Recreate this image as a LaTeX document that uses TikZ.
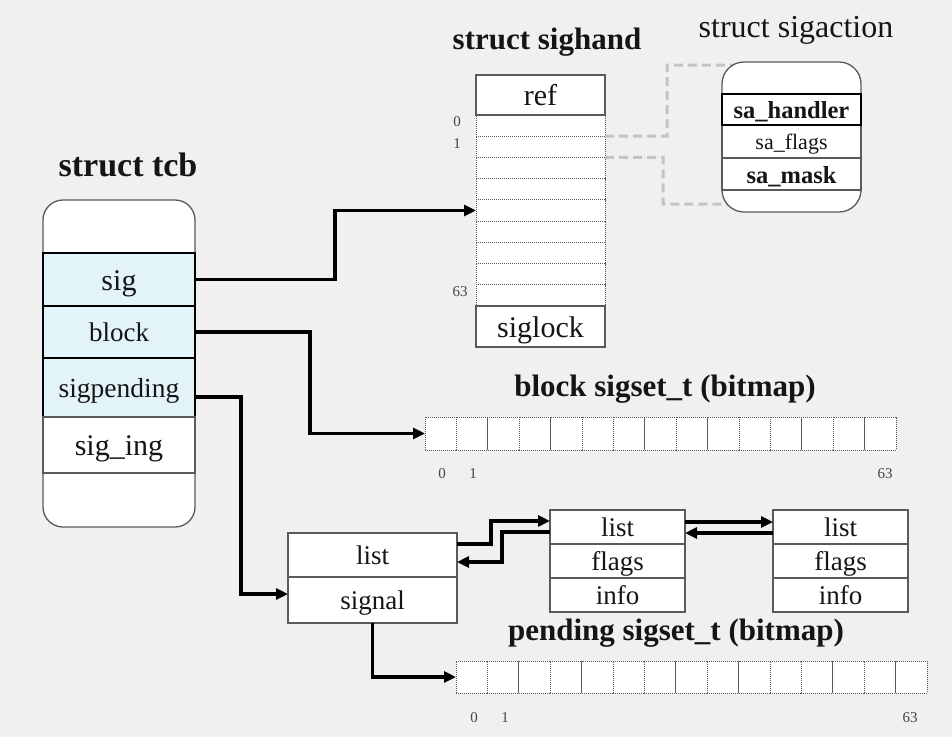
\documentclass[tikz,border=0pt]{standalone}
\usepackage{fontspec}
\setmainfont{Liberation Serif}
\usetikzlibrary{arrows.meta}
\definecolor{bg}{HTML}{F0F0F0}
\definecolor{hl}{HTML}{E2F3FA}
\definecolor{bd}{HTML}{5A5A5A}
\definecolor{dsh}{HTML}{C4C4C4}
\definecolor{txt}{HTML}{151515}
\definecolor{num}{HTML}{444444}
\begin{document}
\begin{tikzpicture}[x=1pt,y=-1pt,
  fld/.style={draw=bd,line width=1.3pt,fill=white,inner sep=0pt,outer sep=0pt,text=txt,text depth=0pt,fmid},
  fbig/.style={font=\fontsize{30}{30}\selectfont,text height=21pt},
  fmid/.style={font=\fontsize{27}{27}\selectfont,text height=19pt},
  fsmall/.style={font=\fontsize{22}{22}\selectfont,text height=16.5pt},
  fsmallb/.style={font=\bfseries\fontsize{24.5}{24.5}\selectfont,text height=18pt},
  hlrow/.style={fld,draw=black,fill=hl,minimum width=152pt},
  slot/.style={draw=bd,densely dotted,line width=1pt,fill=white,inner sep=0pt,outer sep=0pt,minimum width=129pt,minimum height=21.22pt},
  cell/.style={draw=bd,densely dotted,line width=1pt,fill=white,inner sep=0pt,outer sep=0pt,minimum width=31.4pt},
  ttl/.style={text=txt,inner sep=0pt,font=\bfseries\fontsize{31}{31}\selectfont},
  nlab/.style={text=num,inner sep=0pt,font=\fontsize{15}{15}\selectfont},
  conn/.style={line width=3.2pt,line join=miter,-{Triangle[length=12pt,width=11pt]}},
  gdash/.style={draw=dsh,line width=3pt,dash pattern=on 9pt off 5pt}]
\fill[bg] (0,0) rectangle (952,737);
\useasboundingbox (0,0) rectangle (952,737);

% ---- struct tcb
\node[ttl,font=\bfseries\fontsize{34}{34}\selectfont] (tcbt) at (128,165) {struct tcb};
\draw[draw=bd,line width=1.3pt,fill=white,rounded corners=20pt] (43,200) rectangle (195,527);
\node[hlrow,minimum height=53pt,fbig] (sig) at (119,279.5) {sig};
\node[hlrow,minimum height=52pt] (block) at (119,332) {block};
\node[hlrow,minimum height=59pt,font=\fontsize{27.5}{27.5}\selectfont] (sigpend) at (119,387.5) {sigpending};
\node[fld,minimum width=152pt,minimum height=56pt,fbig] (siging) at (119,445) {sig\_ing};

% ---- struct sighand
\node[ttl] (sht) at (547,42) {struct sighand};
\foreach \i in {0,...,8}{
  \node[slot] (slot\i) at (540.5,{115+21.22*(\i+0.5)}) {};
}
\node[fld,minimum width=129pt,minimum height=40pt,fbig] (ref) at (540.5,95) {ref};
\node[fld,minimum width=129pt,minimum height=41pt,fbig] (siglock) at (540.5,326.5) {siglock};
\node[nlab] (sh0) at (457,122) {0};
\node[nlab] (sh1) at (457,144) {1};
\node[nlab] (sh63) at (460,292) {63};

% ---- struct sigaction
\node[text=txt,inner sep=0pt,font=\fontsize{32}{32}\selectfont] (sat) at (796,30) {struct sigaction};
\coordinate (sain1) at (745,65);
\coordinate (sain2) at (745,204);
\draw[gdash] (slot0.south east) -- (667,136.2) -- (667,65) -- (sain1);
\draw[gdash] (slot1.south east) -- (663,157.4) -- (663,204) -- (sain2);
\draw[draw=bd,line width=1.3pt,fill=white,rounded corners=22pt] (722,62) rectangle (861,212);
\node[fld,minimum width=139pt,minimum height=33pt,fsmall] (saf) at (791.5,141.5) {sa\_flags};
\node[fld,minimum width=139pt,minimum height=32pt,fsmallb] (sam) at (791.5,174) {sa\_mask};
\node[fld,draw=black,line width=1.8pt,minimum width=139pt,minimum height=31pt,fsmallb] (sah) at (791.5,109.5) {sa\_handler};

% ---- block bitmap
\node[ttl] (bbt) at (665,389) {block sigset\_t (bitmap)};
\foreach \i in {0,...,14}{
  \node[cell,minimum height=33pt] (bb\i) at ({425+31.4*(\i+0.5)},433.5) {};
}
\node[nlab] (bl0) at (442,474) {0};
\node[nlab] (bl1) at (473,474) {1};
\node[nlab] (bl63) at (885,474) {63};

% ---- sigqueue
\node[fld,minimum width=169pt,minimum height=44pt] (sqlist) at (372.5,555) {list};
\node[fld,minimum width=169pt,minimum height=46pt] (sqsig) at (372.5,600) {signal};

\node[fld,minimum width=135pt,minimum height=34pt] (qalist) at (617.5,527) {list};
\node[fld,minimum width=135pt,minimum height=34pt] (qaflags) at (617.5,561) {flags};
\node[fld,minimum width=135pt,minimum height=34pt] (qainfo) at (617.5,595) {info};

\node[fld,minimum width=135pt,minimum height=34pt] (qblist) at (840.5,527) {list};
\node[fld,minimum width=135pt,minimum height=34pt] (qbflags) at (840.5,561) {flags};
\node[fld,minimum width=135pt,minimum height=34pt] (qbinfo) at (840.5,595) {info};

% ---- pending bitmap
\node[ttl] (pbt) at (676,633) {pending sigset\_t (bitmap)};
\foreach \i in {0,...,14}{
  \node[cell,minimum height=32pt] (pb\i) at ({456+31.4*(\i+0.5)},677) {};
}
\node[nlab] (pl0) at (474,718) {0};
\node[nlab] (pl1) at (505,718) {1};
\node[nlab] (pl63) at (910,718) {63};

% ---- connectors
\draw[conn] (sig.east) -- (335,279.5) |- (slot4.west);
\draw[conn] (block.east) -- (310,332) |- (bb0.west);
\draw[conn] ([yshift=-9.5pt]sigpend.east) -- (241,397) |- ([yshift=6pt]sqsig.west);
\draw[conn] ([yshift=11pt]sqlist.east) -- (491,544) |- ([yshift=6pt]qalist.west);
\draw[conn] ([yshift=-5pt]qalist.west) -- (502,532) |- ([yshift=-7pt]sqlist.east);
\draw[conn] ([yshift=5pt]qalist.east) -- ([yshift=5pt]qblist.west);
\draw[conn] ([yshift=-6pt]qblist.west) -- ([yshift=-6pt]qalist.east);
\draw[conn] (sqsig.south) |- (pb0.west);
\end{tikzpicture}
\end{document}
